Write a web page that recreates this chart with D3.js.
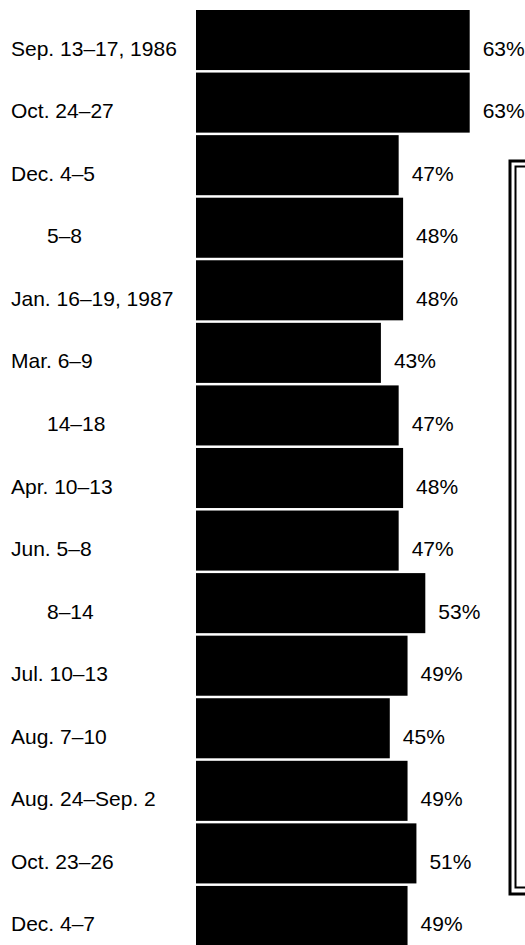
<!DOCTYPE html>
<html>
<head>
<meta charset="utf-8">
<script src="https://cdn.jsdelivr.net/npm/d3@7"></script>
<style>
  html, body { margin: 0; padding: 0; background: #fff; }
  svg { display: block; }
  text { font-family: "Liberation Sans", Arial, Helvetica, sans-serif; font-size: 21px; fill: #000; }
</style>
</head>
<body>
<svg id="chart" width="525" height="945"></svg>
<script>
// Poll dates (sub-entries without month are indented)
const dates = [
  'Sep. 13–17, 1986', 'Oct. 24–27', 'Dec. 4–5', '5–8', 'Jan. 16–19, 1987',
  'Mar. 6–9', '14–18', 'Apr. 10–13', 'Jun. 5–8', '8–14',
  'Jul. 10–13', 'Aug. 7–10', 'Aug. 24–Sep. 2', 'Oct. 23–26', 'Dec. 4–7'
];
// Percent values
const values = [63, 63, 47, 48, 48, 43, 47, 48, 47, 53, 49, 45, 49, 51, 49];

const rows = dates.map((d, i) => ({ date: d, value: values[i] }));

const svg = d3.select('#chart');
const width = 525, height = 945;

const barLeft = 196;

// Scales
const x = d3.scaleLinear()
  .domain([0, 63])
  .range([190, 469.7]);

const y = d3.scaleBand()
  .domain(dates)
  .range([10, 946])
  .paddingInner(0.04);

// Bars
svg.append('g')
  .selectAll('rect')
  .data(rows)
  .enter()
  .append('rect')
  .attr('x', barLeft)
  .attr('y', d => y(d.date))
  .attr('width', d => x(d.value) - barLeft)
  .attr('height', y.bandwidth())
  .attr('fill', '#000');

// Date labels
svg.append('g')
  .selectAll('text')
  .data(rows)
  .enter()
  .append('text')
  .attr('x', d => /^\d/.test(d.date) ? 47 : 11)
  .attr('y', d => y(d.date) + y.bandwidth() / 2 + 8)
  .attr('dominant-baseline', 'central')
  .text(d => d.date);

// Value labels
svg.append('g')
  .selectAll('text')
  .data(rows)
  .enter()
  .append('text')
  .attr('x', d => x(d.value) + 13)
  .attr('y', d => y(d.date) + y.bandwidth() / 2 + 8)
  .attr('dominant-baseline', 'central')
  .text(d => d.value + '%');

// Partly visible double frame at the right edge
const frame = svg.append('g').attr('fill', 'none').attr('stroke', '#000');
frame.append('rect')
  .attr('x', 510).attr('y', 161)
  .attr('width', 40).attr('height', 733)
  .attr('stroke-width', 3);
frame.append('rect')
  .attr('x', 515.5).attr('y', 166.5)
  .attr('width', 40).attr('height', 721)
  .attr('stroke-width', 2);
</script>
</body>
</html>
